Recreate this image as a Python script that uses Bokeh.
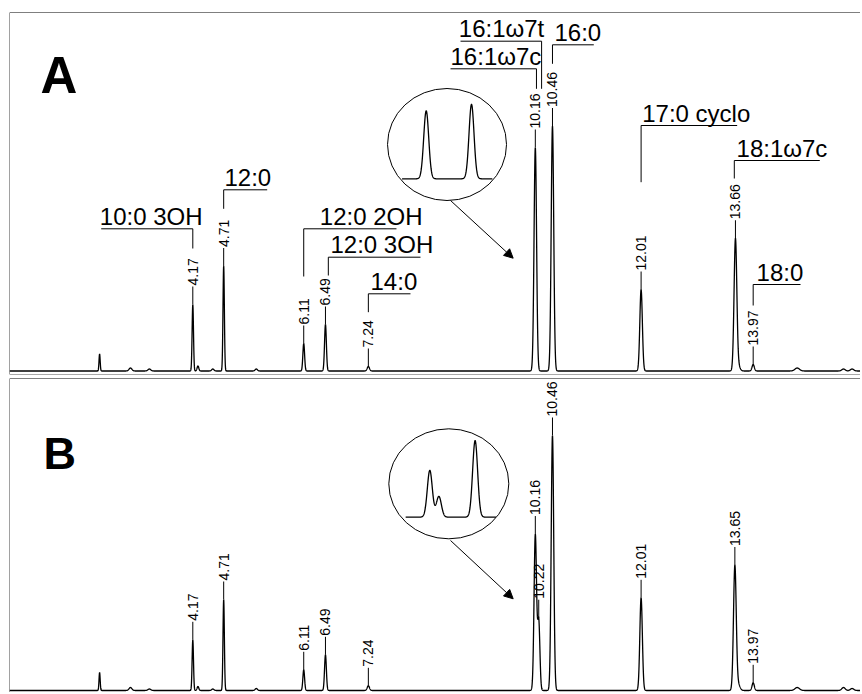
import numpy as np
from bokeh.plotting import figure
from bokeh.layouts import column
from bokeh.models import Span, Arrow, NormalHead, Range1d
from bokeh.core.properties import value
from bokeh.embed import file_html
from bokeh.resources import INLINE

# ---------------- data ----------------
# Panel A - labelled peaks: retention time (min), apex height (detector units), sigma (min)
rt_a = [4.17, 4.71, 6.11, 6.49, 7.24, 10.16, 10.46, 12.01, 13.66, 13.97]
lab_a = ["4.17", "4.71", "6.11", "6.49", "7.24", "10.16", "10.46", "12.01", "13.66", "13.97"]
h_a = [66.5, 105.0, 27.5, 46.5, 4.5, 223.5, 245.0, 81.5, 131.5, 6.5]
w_a = [0.012, 0.012, 0.015, 0.016, 0.02, 0.022, 0.022, 0.022, 0.024, 0.02]
# Panel A - unlabelled minor peaks
rt_a_minor = [2.54, 3.08, 3.41, 4.26, 4.52, 5.28, 13.71, 14.74, 15.55, 15.70]
h_a_minor = [17.0, 3.0, 2.0, 5.0, 2.0, 2.0, 5.0, 3.0, 2.0, 2.0]
w_minor = [0.010, 0.025, 0.025, 0.015, 0.02, 0.02, 0.03, 0.04, 0.03, 0.03]

# Panel B - labelled peaks
rt_b = [4.17, 4.71, 6.11, 6.49, 7.24, 10.16, 10.22, 10.46, 12.01, 13.65, 13.97]
lab_b = ["4.17", "4.71", "6.11", "6.49", "7.24", "10.16", "10.22", "10.46", "12.01", "13.65", "13.97"]
h_b = [50.7, 91.0, 20.7, 35.7, 4.7, 155.7, 69.0, 255.0, 92.7, 124.7, 7.7]
w_b = [0.012, 0.012, 0.015, 0.016, 0.02, 0.022, 0.02, 0.022, 0.022, 0.024, 0.02]
# Panel B - unlabelled minor peaks
rt_b_minor = [2.54, 3.08, 3.41, 4.26, 4.52, 5.28, 13.71, 14.74, 15.55, 15.70]
h_b_minor = [18.0, 3.0, 1.5, 4.0, 1.5, 2.0, 6.0, 3.0, 3.0, 2.0]

# Compound names of panel A
names = ["10:0 3OH", "12:0", "12:0 2OH", "12:0 3OH", "14:0", "16:1\u03c97t",
         "16:1\u03c97c", "16:0", "17:0 cyclo", "18:1\u03c97c", "18:0"]

# ---------------- layout / style constants ----------------
T0, T1 = 0.9643, 15.847          # visible retention-time window
YA = (-3.5, 358.5)               # panel A intensity window
YB = (-2.0, 312.0)               # panel B intensity window
FONT = value("Liberation Sans")

# leader lines for names: (x of vertical, y of underline, far end of underline,
#                          text x, lower end of vertical)
leaders = [
    (4.17, 142.2, 2.568, 2.544, 122.5),
    (4.71, 181.2, 5.471, 4.724, 162.2),
    (6.11, 142.2, 7.732, 6.392, 94.5),
    (6.54, 113.8, 8.152, 6.578, 95.5),
    (7.24, 77.2, 7.977, 7.278, 58.8),
    (10.27, 329.8, 8.852, 8.822, 282.2),
    (10.18, 302.2, 8.677, 8.677, 282.2),
    (10.46, 326.2, 11.183, 10.495, 307.2),
    (12.01, 245.5, 13.690, 12.029, 188.8),
    (13.64, 210.5, 15.135, 13.679, 192.5),
    (13.97, 86.5, 14.798, 14.030, 65.5),
]


def trace(t, rts, hs, ws):
    y = np.zeros_like(t)
    for r, h, w in zip(rts, hs, ws):
        y += h * np.exp(-0.5 * ((t - r) / w) ** 2)
    return y


def make_panel(height, yr, mb_top, mb_bottom):
    p = figure(width=860, height=height, output_backend="svg", toolbar_location=None,
               x_range=Range1d(T0, T1), y_range=Range1d(*yr),
               x_axis_location=None, y_axis_location=None,
               min_border_left=9, min_border_right=0,
               min_border_top=mb_top, min_border_bottom=mb_bottom,
               outline_line_color=None, background_fill_color="white",
               border_fill_color="white")
    p.grid.grid_line_color = None
    p.add_layout(Span(location=yr[1], dimension="width", line_color="black", line_width=1.2))
    p.add_layout(Span(location=yr[0], dimension="width", line_color="#555555", line_width=1))
    p.add_layout(Span(location=T0, dimension="height", line_color="#444444", line_width=1))
    return p


def draw_panel(p, rts, labs, hs, ws, rts_m, hs_m, inset):
    t = np.arange(T0, T1, 0.002)
    all_rt = list(rts) + list(rts_m)
    all_h = list(hs) + list(hs_m)
    all_w = list(ws) + list(w_minor)
    y = trace(t, all_rt, all_h, all_w)
    p.line(t, y, line_color="black", line_width=1.3)

    apex = trace(np.array(rts), all_rt, all_h, all_w)
    p.segment(x0=rts, y0=list(apex), x1=rts, y1=list(apex + 18),
              line_color="black", line_width=1)
    p.text(x=rts, y=list(apex + 19), text=labs, angle=np.pi / 2,
           text_font=FONT, text_font_size=value("14px"),
           text_align="left", text_baseline="middle", text_color="black")

    # magnified inset of the 16:1 / 16:0 region
    (xc, yc, ew, eh, x_anchor, y_base, zx, zy, arrow) = inset
    p.ellipse(x=[xc], y=[yc], width=[ew], height=[eh], width_units="screen",
              height_units="screen", fill_color=None, line_color="black", line_width=1)
    sel = [i for i, r in enumerate(rts) if 10.0 <= r <= 10.6]
    ti = np.arange(10.0, 10.598, 0.001)
    yi = trace(ti, [rts[i] for i in sel], [hs[i] for i in sel], [0.0166] * len(sel))
    p.line(x_anchor + (ti - 10.16) * zx, y_base + yi * zy, line_color="black", line_width=1.3)
    p.add_layout(Arrow(end=NormalHead(size=9, fill_color="black", line_color="black"),
                       x_start=arrow[0], y_start=arrow[1], x_end=arrow[2], y_end=arrow[3],
                       line_color="black", line_width=1))


ZX = 151.0 / 57.18

pa = make_panel(376, YA, 12, 2)
draw_panel(pa, rt_a, lab_a, h_a, w_a, rt_a_minor, h_a_minor,
           (8.616, 226.5, 119, 112, 8.252, 192.2, ZX, 0.304, (8.677, 170.5, 9.773, 112.8)))

# compound name leaders
for (xv, ly, xe, tx, ve), nm in zip(leaders, names):
    pa.line([xe, xv, xv], [ly, ly, ve], line_color="black", line_width=1)
pa.text(x=[ld[3] for ld in leaders], y=[ld[1] + 12.5 for ld in leaders], text=names,
        text_font=FONT, text_font_size=value("24px"), text_align="left",
        text_baseline="middle", text_color="black")
pa.text(x=[1.506], y=[296.0], text=["A"], text_font=FONT, text_font_size=value("51px"),
        text_font_style="bold", text_align="left", text_baseline="middle", text_color="black")

pb = make_panel(316, YB, 2, 0)
draw_panel(pb, rt_b, lab_b, h_b, w_b, rt_b_minor, h_b_minor,
           (8.647, 206.7, 120, 110, 8.315, 173.4, ZX, 0.30, (8.677, 150.0, 9.773, 91.7)))
pb.text(x=[1.559], y=[237.0], text=["B"], text_font=FONT, text_font_size=value("45px"),
        text_font_style="bold", text_align="left", text_baseline="middle", text_color="black")

layout = column(pa, pb, spacing=0)
open("out.html", "w").write(file_html(layout, INLINE))
